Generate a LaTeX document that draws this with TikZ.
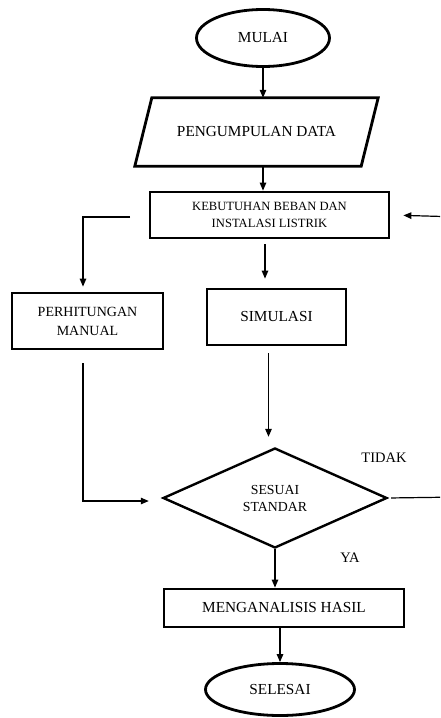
\documentclass[tikz,border=0pt]{standalone}
\usepackage{fontspec}
\setmainfont{Liberation Serif}
\usetikzlibrary{shapes.geometric,arrows.meta}
\tikzset{
  box/.style={draw, line width=2.8pt, rectangle, inner sep=0pt, align=center},
  term/.style={draw, line width=2.8pt, ellipse, inner sep=0pt, font=\fontsize{15.3}{17}\selectfont},
  dec/.style={draw, line width=2.4pt, diamond, inner sep=0pt, align=center, font=\fontsize{13.8}{17}\selectfont},
  conn/.style={line width=1.2pt},
  arr/.style={conn, -{Triangle[length=8pt,width=6.5pt]}},
  lbl/.style={inner sep=0pt, font=\fontsize{14.5}{17}\selectfont}
}
\begin{document}
\begin{tikzpicture}[x=1pt,y=-1pt]
\useasboundingbox (0,0) rectangle (440,718);
\clip (0,0) rectangle (440,718);
% nodes
\node[term, minimum width=133pt, minimum height=57pt] (mulai) at (263,38) {MULAI};
\node[inner sep=0pt, minimum width=243pt, minimum height=68pt, font=\fontsize{15.3}{17}\selectfont] (data) at (256.5,132) {PENGUMPULAN DATA};
\draw[line width=2.8pt, line join=miter] ([xshift=17pt]data.north west) -- (data.north east) -- ([xshift=-17pt]data.south east) -- (data.south west) -- cycle;
\node[box, minimum width=239pt, minimum height=46pt, font=\fontsize{12.6}{17}\selectfont] (keb) at (269.5,215) {KEBUTUHAN BEBAN DAN\\INSTALASI LISTRIK};
\node[box, minimum width=151pt, minimum height=56pt, font=\fontsize{14}{19}\selectfont] (perh) at (87.5,321) {PERHITUNGAN\\MANUAL};
\node[box, minimum width=139pt, minimum height=56pt, font=\fontsize{15.3}{17}\selectfont] (sim) at (276.5,317) {SIMULASI};
\node[dec, minimum width=224pt, minimum height=100pt] (dia) at (275,498) {SESUAI\\STANDAR};
\node[box, minimum width=240pt, minimum height=38pt, font=\fontsize{15.3}{17}\selectfont] (ana) at (284,608) {MENGANALISIS HASIL};
\node[term, minimum width=149pt, minimum height=52pt] (sel) at (280,689.5) {SELESAI};
\node[lbl] (tidak) at (384,458) {TIDAK};
\node[lbl] (ya) at (350,558) {YA};
% helper coordinates
\coordinate (kl) at (130,217);
\coordinate (rb) at (460,497);
\coordinate (rt) at (460,217);
% connectors
\draw[arr] (mulai.south) -- (mulai.south |- data.north);
\draw[arr] (data.south -| mulai) -- (keb.north -| mulai);
\draw[arr, shorten >=5pt] (kl) -| ([xshift=-4.5pt]perh.north);
\draw[arr, shorten <=5pt, shorten >=9pt] ([xshift=-4.5pt]keb.south) -- ([xshift=-4.5pt]keb.south |- sim.north);
\draw[arr, shorten <=13pt, shorten >=13pt] ([xshift=-4.5pt]perh.south) |- ([yshift=-3pt]dia.west);
\draw[arr, shorten <=7pt, shorten >=10pt] ([xshift=-8pt]sim.south) -- ([xshift=-8pt]sim.south |- dia.north);
\draw[arr, shorten <=3pt, shorten >=13pt] (dia.east) -- (rb) -- (rt) -- (keb.east);
\draw[arr] (dia.south) -- (dia.south |- ana.north);
\draw[arr] (ana.south -| sel) -- (sel.north);
\end{tikzpicture}
\end{document}
